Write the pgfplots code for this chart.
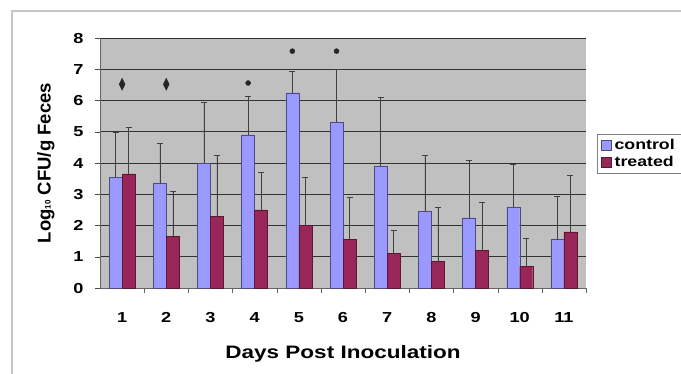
\documentclass[border=0pt]{standalone}
\usepackage{pgfplots}
\pgfplotsset{compat=1.18}
\usepackage{pgfplotstable}
\usepackage{fontspec}
\setmainfont{Liberation Sans}[FakeStretch=1.25]
\newfontfamily\ylabfont{Liberation Sans}
\definecolor{ctrl}{RGB}{153,153,255}
\definecolor{trt}{RGB}{153,38,88}
\definecolor{plotbg}{RGB}{192,192,192}
\pgfplotstableread{
day ctrl ctrlerr trt trterr
1 3.55 1.45 3.65 1.50
2 3.35 1.30 1.65 1.45
3 4.00 1.95 2.30 1.95
4 4.90 1.25 2.50 1.20
5 6.25 0.70 2.00 1.55
6 5.30 1.70 1.55 1.35
7 3.90 2.20 1.10 0.75
8 2.45 1.80 0.85 1.75
9 2.25 1.85 1.20 1.55
10 2.60 1.35 0.70 0.90
11 1.55 1.40 1.80 1.80
}\datatable
\begin{document}
\begin{tikzpicture}[x=1bp,y=-1bp]
\useasboundingbox (0,0) rectangle (681,373);
\draw[gray!45, line width=1.6bp] (12,11) rectangle (700,390);
\begin{axis}[
  at={(100bp,-288bp)}, anchor=south west,
  scale only axis, width=486bp, height=250bp,
  ymin=0, ymax=8, xmin=0.5, xmax=11.5,
  ytick={0,1,...,8},
  xtick={1,...,11},
  minor xtick={1.5,2.5,...,10.5,11.5},
  axis background/.style={fill=plotbg},
  ymajorgrids, major grid style={black!80, line width=0.8bp},
  axis x line*=bottom, axis y line*=left,
  axis line style={black!60},
  y axis line style={-}, x axis line style={-},
  ytick style={black!70},
  major x tick style={draw=none},
  minor x tick style={draw=black!60},
  tick align=outside,
  major tick length=5bp, minor tick length=5bp,
  ticklabel style={font=\fontsize{14.5bp}{17bp}\selectfont\bfseries},
  /pgf/number format/assume math mode=true,
  yticklabel style={xshift=-8bp},
  xticklabel style={yshift=-16bp},
  xlabel={\bfseries Days Post Inoculation},
  ylabel={\ylabfont\bfseries Log{\fontsize{8bp}{10bp}\selectfont 10} CFU/g Feces},
  xlabel style={font=\fontsize{18bp}{21bp}\selectfont, yshift=-16bp},
  ylabel style={font=\fontsize{18.5bp}{22bp}\selectfont, yshift=12bp},
  ybar=0pt, bar width=13bp,
  error bars/error bar style={black!75},
  error bars/error mark options={rotate=90, mark size=3bp, black!75},
  legend style={at={(1.0226,0.616)}, anchor=north west, draw=black!50,
    font=\fontsize{14.2bp}{19bp}\selectfont\bfseries, inner xsep=4bp, inner ysep=3bp,
    row sep=1bp, legend cell align=left,
    nodes={inner xsep=3bp}},
  legend image code/.code={\draw[#1] (0bp,-5bp) rectangle (10bp,5bp);},
  clip=false,
]
\addplot[fill=ctrl, draw=ctrl!50!black, error bars/.cd, y dir=plus, y explicit]
  table[x=day, y=ctrl, y error=ctrlerr] {\datatable};
\addlegendentry{control}
\addplot[fill=trt, draw=trt!60!black, error bars/.cd, y dir=plus, y explicit]
  table[x=day, y=trt, y error=trterr] {\datatable};
\addlegendentry{treated}
\end{axis}
\begin{axis}[
  at={(100bp,-288bp)}, anchor=south west,
  scale only axis, width=486bp, height=250bp,
  ymin=0, ymax=8, xmin=0.5, xmax=11.5,
  hide axis, clip=false,
]
\addplot[only marks, mark=diamond*, mark size=6bp, mark options={xscale=0.65}, black!85] coordinates {(1,6.52) (2,6.52)};
\addplot[only marks, mark=*, mark size=2.5bp, black!85] coordinates {(3.853,6.56) (4.853,7.58) (5.853,7.58)};
\end{axis}
\end{tikzpicture}
\end{document}
